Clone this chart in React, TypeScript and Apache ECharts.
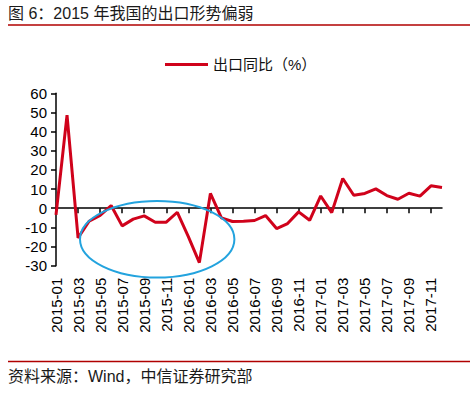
import React, { useEffect, useRef } from "react";
import * as echarts from "echarts";

const months: string[] = [
  "2015-01","2015-02","2015-03","2015-04","2015-05","2015-06","2015-07","2015-08","2015-09","2015-10","2015-11","2015-12",
  "2016-01","2016-02","2016-03","2016-04","2016-05","2016-06","2016-07","2016-08","2016-09","2016-10","2016-11","2016-12",
  "2017-01","2017-02","2017-03","2017-04","2017-05","2017-06","2017-07","2017-08","2017-09","2017-10","2017-11","2017-12",
];

const exportYoY: number[] = [
  -3.5, 48.6, -15.5, -6.8, -3.7, 1.4, -9.2, -5.7, -4.0, -7.3, -7.3, -2.1,
  -14.8, -28.4, 7.7, -5.0, -6.9, -6.8, -6.4, -3.8, -10.6, -8.0, -1.9, -6.3,
  6.4, -2.3, 15.5, 6.8, 7.7, 10.1, 6.6, 4.7, 7.8, 6.3, 11.7, 10.8,
];

const seriesName = "出口同比（%）";
const titleText = "图 6：2015 年我国的出口形势偏弱";
const sourceText = "资料来源：Wind，中信证券研究部";

const FONT = "'Liberation Sans', Arial, 'Noto Sans CJK SC', sans-serif";

export default function App() {
  const ref = useRef<HTMLDivElement>(null);
  useEffect(() => {
    document.body.style.margin = "0";
    if (!ref.current) return;
    const chart = echarts.init(ref.current, undefined, { renderer: "svg" });
    chart.setOption({
      animation: false,
      backgroundColor: "#ffffff",
      textStyle: { fontFamily: FONT },
      legend: {
        data: [seriesName],
        left: 160,
        top: 52,
        icon: "rect",
        itemWidth: 43,
        itemHeight: 3,
        itemGap: 5,
        textStyle: { fontSize: 15, color: "#111", fontFamily: FONT },
      },
      grid: { left: 56, right: 29, top: 93.3, bottom: 127.3, containLabel: false },
      xAxis: [
        {
          type: "category",
          data: months,
          boundaryGap: false,
          axisLine: { onZero: true, lineStyle: { color: "#000", width: 1.5 } },
          axisTick: { show: true, length: 5, interval: 1, lineStyle: { color: "#000", width: 1.5 } },
          axisLabel: { show: false },
          splitLine: { show: false },
        },
        {
          type: "category",
          data: months,
          boundaryGap: false,
          position: "bottom",
          axisLine: { show: false, onZero: false },
          axisTick: { show: false },
          axisLabel: {
            show: true,
            interval: 1,
            rotate: 90,
            margin: 12,
            fontSize: 15,
            color: "#000",
            fontFamily: FONT,
          },
          splitLine: { show: false },
        },
      ],
      yAxis: {
        type: "value",
        min: -30,
        max: 60,
        interval: 10,
        axisLine: { show: true, lineStyle: { color: "#000", width: 1.5 } },
        axisTick: { show: true, length: 5, lineStyle: { color: "#000", width: 1.5 } },
        axisLabel: { fontSize: 15, color: "#000", margin: 9, fontFamily: FONT },
        splitLine: { show: false },
      },
      series: [
        {
          name: seriesName,
          type: "line",
          xAxisIndex: 0,
          data: exportYoY,
          showSymbol: false,
          symbol: "none",
          lineStyle: { color: "#d0021b", width: 3 },
          itemStyle: { color: "#d0021b" },
        },
      ],
      graphic: [
        {
          type: "text",
          left: 8,
          top: 5,
          style: { text: titleText, fontSize: 16, fill: "#1a1a1a", fontFamily: FONT },
        },
        {
          type: "line",
          shape: { x1: 8, y1: 25, x2: 470, y2: 25 },
          style: { stroke: "#b00000", lineWidth: 1.5 },
        },
        {
          type: "ellipse",
          shape: { cx: 157.2, cy: 239.3, rx: 77.2, ry: 38.3 },
          style: { fill: "none", stroke: "#23a3de", lineWidth: 2 },
          z: 10,
        },
        {
          type: "line",
          shape: { x1: 8, y1: 361.5, x2: 470, y2: 361.5 },
          style: { stroke: "#b00000", lineWidth: 1.5 },
        },
        {
          type: "text",
          left: 8,
          top: 368,
          style: { text: sourceText, fontSize: 16, fill: "#1a1a1a", fontFamily: FONT },
        },
      ],
    });
    return () => chart.dispose();
  }, []);
  return <div ref={ref} style={{ width: 471, height: 393 }} />;
}
